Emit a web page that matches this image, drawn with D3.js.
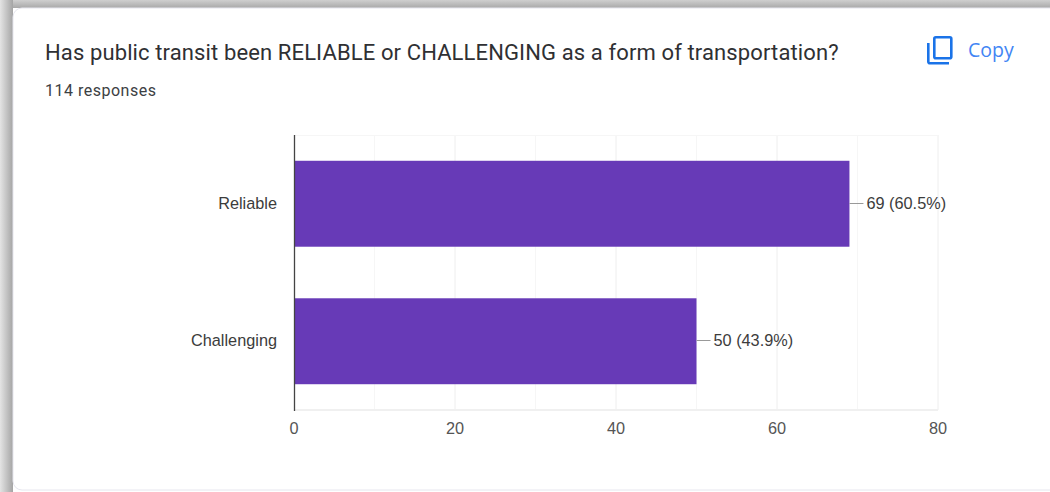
<!DOCTYPE html>
<html>
<head>
<meta charset="utf-8">
<script src="https://cdn.jsdelivr.net/npm/d3@7"></script>
<style>
  html, body { margin: 0; padding: 0; background: #fff; overflow: hidden; }
  text { font-family: Roboto, Arial, sans-serif; }
</style>
</head>
<body>
<div id="chart-container"></div>
<script>
const categories = ["Reliable", "Challenging"];
const counts = [69, 50];
const percents = ["60.5%", "43.9%"];
const majorTicks = [0, 20, 40, 60, 80];
const minorTicks = [10, 30, 50, 70];
const titleText = "Has public transit been RELIABLE or CHALLENGING as a form of transportation?";
const subtitleText = "114 responses";

const width = 1050;
const height = 492;

const svg = d3.select("#chart-container")
    .append("svg")
        .attr("width", width)
        .attr("height", height)
        .style("display", "block");

// Screenshot shadow round the card
const defs = svg.append("defs");
const leftShade = defs.append("linearGradient").attr("id", "leftShade");
leftShade.append("stop").attr("offset", 0).attr("stop-color", "#e4e4e4");
leftShade.append("stop").attr("offset", 1).attr("stop-color", "#a4a4a4");
const topShade = defs.append("linearGradient").attr("id", "topShade")
    .attr("x2", 0).attr("y2", 1);
topShade.append("stop").attr("offset", 0).attr("stop-color", "#cfcfcf");
topShade.append("stop").attr("offset", 1).attr("stop-color", "#a8a8a8");

svg.append("rect").attr("width", width).attr("height", 8).attr("fill", "url(#topShade)");
svg.append("rect").attr("width", 13).attr("height", height).attr("fill", "url(#leftShade)");

svg.append("rect")
    .attr("x", 13).attr("y", 8)
    .attr("width", width).attr("height", 482)
    .attr("rx", 9)
    .attr("fill", "#fff")
    .attr("stroke", "#e6e6ee")
    .attr("stroke-width", 1);

svg.append("text")
    .attr("x", 45).attr("y", 60)
    .attr("font-size", 22)
    .attr("letter-spacing", 0.12)
    .attr("fill", "#2f3033")
    .text(titleText);

svg.append("text")
    .attr("x", 45).attr("y", 96)
    .attr("font-size", 16)
    .attr("letter-spacing", 0.5)
    .attr("fill", "#3c4043")
    .text(subtitleText);

// Copy icon
const icon = svg.append("g")
    .attr("fill", "none")
    .attr("stroke", "#1a73e8")
    .attr("stroke-width", 2.6);
icon.append("rect")
    .attr("x", 934.3).attr("y", 37.3)
    .attr("width", 17).attr("height", 21)
    .attr("rx", 1.5);
icon.append("path")
    .attr("d", "M928.3 43V61.5q0 1.8 1.8 1.8H949");

svg.append("text")
    .attr("x", 968).attr("y", 57)
    .attr("font-size", 19.5)
    .attr("fill", "#4285f4")
    .style("font-family", "'Open Sans', sans-serif")
    .text("Copy");

const x = d3.scaleLinear().domain([0, 80]).range([294, 938]);
const y = d3.scaleBand().domain(categories).range([135, 410]).paddingInner(0.375).paddingOuter(0.1875);

// Gridlines
svg.append("g").selectAll("line")
    .data(minorTicks)
    .join("line")
        .attr("x1", d => x(d)).attr("x2", d => x(d))
        .attr("y1", 135).attr("y2", 410)
        .attr("stroke", "#f6f6f6");

svg.append("g").selectAll("line")
    .data(majorTicks.slice(1))
    .join("line")
        .attr("x1", d => x(d)).attr("x2", d => x(d))
        .attr("y1", 135).attr("y2", 410)
        .attr("stroke", "#eeeeee");

svg.append("line")
    .attr("x1", 294).attr("x2", 938)
    .attr("y1", 135.5).attr("y2", 135.5)
    .attr("stroke", "#f6f6f6");
svg.append("line")
    .attr("x1", 294).attr("x2", 938)
    .attr("y1", 410).attr("y2", 410)
    .attr("stroke", "#f0f0f0")
    .attr("stroke-width", 2);

// Bars
const rows = categories.map((c, i) => ({ category: c, count: counts[i], percent: percents[i] }));

svg.append("g").selectAll("rect")
    .data(rows)
    .join("rect")
        .attr("x", x(0))
        .attr("y", d => y(d.category))
        .attr("width", d => x(d.count) - x(0))
        .attr("height", y.bandwidth())
        .attr("fill", "#673ab7");

// Leader lines and value labels
svg.append("g").selectAll("line")
    .data(rows)
    .join("line")
        .attr("x1", d => x(d.count))
        .attr("x2", d => x(d.count) + 14)
        .attr("y1", d => Math.round(y(d.category) + y.bandwidth() / 2) - 0.5)
        .attr("y2", d => Math.round(y(d.category) + y.bandwidth() / 2) - 0.5)
        .attr("stroke", "#999999");

const labelFont = "Arial, 'Liberation Sans', sans-serif";

svg.append("g").selectAll("text")
    .data(rows)
    .join("text")
        .attr("x", d => x(d.count) + 17)
        .attr("y", d => y(d.category) + y.bandwidth() / 2 + 5)
        .attr("font-size", 16.3)
        .attr("fill", "#3c3c3c")
        .style("font-family", labelFont)
        .text(d => `${d.count} (${d.percent})`);

// Category labels
svg.append("g").selectAll("text")
    .data(rows)
    .join("text")
        .attr("x", 277)
        .attr("y", d => y(d.category) + y.bandwidth() / 2 + 5)
        .attr("text-anchor", "end")
        .attr("font-size", 16.3)
        .attr("fill", "#3c3c3c")
        .style("font-family", labelFont)
        .text(d => d.category);

// Value axis labels
svg.append("g").selectAll("text")
    .data(majorTicks)
    .join("text")
        .attr("x", d => x(d))
        .attr("y", 433.5)
        .attr("text-anchor", "middle")
        .attr("font-size", 16.3)
        .attr("fill", "#555555")
        .style("font-family", labelFont)
        .text(d => d);

// Baseline
svg.append("line")
    .attr("x1", 294.5).attr("x2", 294.5)
    .attr("y1", 135).attr("y2", 411)
    .attr("stroke", "#444444")
    .attr("stroke-width", 1.3);
</script>
</body>
</html>
